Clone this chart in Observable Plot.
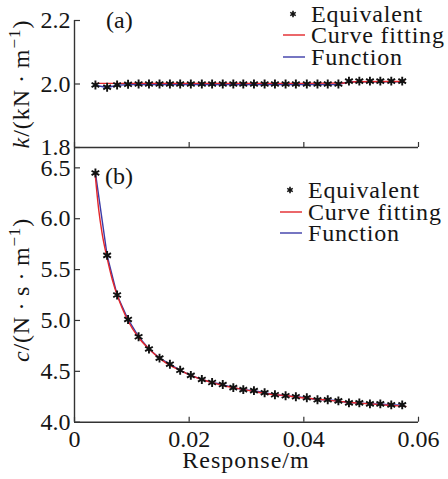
<!DOCTYPE html>
<html><head><meta charset="utf-8">
<script src="https://cdn.jsdelivr.net/npm/d3@7"></script>
<script src="https://cdn.jsdelivr.net/npm/@observablehq/plot@0.6"></script>
<style>
body{margin:0;background:#fff;}
#chart{position:relative;width:448px;height:479px;}
#chart svg{position:absolute;left:0;overflow:visible;background:transparent;}
</style></head><body><div id="chart"></div>
<script>
// ---- data ----
const response = [0.00365,0.00569,0.00743,0.00934,0.01118,0.01299,0.01483,0.01664,0.01843,0.02029,0.02221,0.02400,0.02586,0.02770,0.02944,0.03130,0.03316,0.03496,0.03682,0.03861,0.04052,0.04238,0.04417,0.04603,0.04787,0.04968,0.05153,0.05334,0.05525,0.05716];
const kEquivalent = [1.997,1.990,1.997,1.999,2.000,2.000,2.000,2.000,2.000,2.000,2.000,2.000,2.000,2.000,2.000,2.000,2.000,2.000,2.000,2.000,2.000,2.000,2.000,2.000,2.009,2.009,2.009,2.009,2.009,2.009];
const kFunction   = [1.996,1.989,1.996,1.998,1.998,1.998,1.998,1.998,1.998,1.998,1.998,1.998,1.998,1.998,1.998,1.998,1.998,1.998,1.998,1.998,1.998,1.998,1.998,1.998,2.007,2.007,2.007,2.007,2.007,2.007];
const kFitX = [0.0037,0.0400,0.0470,0.0490,0.0575];
const kFit  = [2.002,2.002,2.003,2.007,2.008];
const cEquivalent = [6.45,5.64,5.25,5.01,4.84,4.72,4.63,4.57,4.51,4.46,4.42,4.39,4.37,4.34,4.32,4.31,4.29,4.27,4.26,4.25,4.24,4.22,4.22,4.21,4.19,4.19,4.18,4.18,4.17,4.17];
const cFunction   = [6.45,5.64,5.25,5.01,4.84,4.72,4.63,4.57,4.51,4.46,4.42,4.39,4.37,4.34,4.32,4.31,4.29,4.27,4.26,4.25,4.24,4.22,4.22,4.21,4.19,4.19,4.18,4.18,4.17,4.17];
const cFitX = [0.0036,0.0042,0.0048,0.0057,0.0066,0.0075,0.0084,0.0093,0.0112,0.0130,0.0148,0.0166,0.0184,0.0203,0.0222,0.0240,0.0259,0.0277,0.0296,0.0314,0.0333,0.0351,0.0370,0.0388,0.0407,0.0425,0.0444,0.0462,0.0481,0.0500,0.0518,0.0537,0.0555,0.0578];
const cFit  = [6.44,6.10,5.86,5.61,5.40,5.24,5.11,5.00,4.83,4.72,4.63,4.56,4.51,4.46,4.42,4.39,4.36,4.34,4.32,4.30,4.28,4.27,4.26,4.245,4.235,4.225,4.215,4.205,4.195,4.185,4.18,4.17,4.165,4.155];
const xTicks = [0,0.02,0.04,0.06];
const xTickLabels = ["0","0.02","0.04","0.06"];
const kTicks = [1.8,2.0,2.2];
const kTickLabels = ["1.8","2.0","2.2"];
const cTicks = [4.0,4.5,5.0,5.5,6.0,6.5];
const cTickLabels = ["4.0","4.5","5.0","5.5","6.0","6.5"];
const legendLabels = ["Equivalent","Curve fitting","Function"];
const panelLabels = ["(a)","(b)"];
const xLabel = "Response/m";

// ---- styling ----
const FONT = '"Liberation Serif","Times New Roman",serif';
const AX = "#333", TXT = "#151515";
const RED = "#e3262a", BLUE = "#3b3ba8";
const pts = (xs, ys) => xs.map((x, i) => ({x, y: ys[i]}));

function panel({height, marginTop, marginBottom, yDomain, yTicks, yLabels, showXLabels, eq, fn, fit}) {
  const marks = [
    Plot.ruleX([0], {stroke: AX, strokeWidth: 1.4}),
    Plot.ruleY([yDomain[0]], {stroke: AX, strokeWidth: 1.4}),
    Plot.axisY(yTicks, {tickSize: -6, fill: "none", stroke: AX, strokeWidth: 1.2, label: null}),
    Plot.axisY(yTicks, {tickSize: 0, tickPadding: 4, stroke: "none", fill: TXT, fontSize: 24, label: null,
      tickFormat: d => yLabels[yTicks.indexOf(d)]}),
    Plot.axisX(xTicks, {tickSize: -5, fill: "none", stroke: AX, strokeWidth: 1.2, label: null}),
    Plot.line(fn, {x: "x", y: "y", stroke: BLUE, strokeWidth: 1.4}),
    Plot.line(fit, {x: "x", y: "y", stroke: RED, strokeWidth: 1.4, curve: "monotone-x"}),
    Plot.dot(eq, {x: "x", y: "y", symbol: "asterisk", r: 4.2, stroke: "#111", strokeWidth: 1.9})
  ];
  if (showXLabels) marks.push(Plot.axisX(xTicks, {tickSize: 0, tickPadding: 8, stroke: "none", fill: TXT, fontSize: 24, label: null,
      tickFormat: d => xTickLabels[xTicks.indexOf(d)]}));
  return Plot.plot({
    width: 448, height, marginLeft: 74, marginRight: 30, marginTop, marginBottom,
    style: {fontFamily: FONT, fontSize: "24px", color: TXT, background: "transparent", overflow: "visible"},
    x: {domain: [0, 0.06], axis: null},
    y: {domain: yDomain, axis: null},
    marks
  });
}

const bottomSvg = panel({height: 332, marginTop: 0, marginBottom: 57.3, yDomain: [4.0, 6.7], yTicks: cTicks, yLabels: cTickLabels,
  showXLabels: true, eq: pts(response, cEquivalent), fn: pts(response, cFunction), fit: pts(cFitX, cFit)});
const topSvg = panel({height: 160, marginTop: 20, marginBottom: 13, yDomain: [1.8, 2.2], yTicks: kTicks, yLabels: kTickLabels,
  showXLabels: false, eq: pts(response, kEquivalent), fn: pts(response, kFunction), fit: pts(kFitX, kFit)});
bottomSvg.style.top = "147px";
topSvg.style.top = "0px";
const root = document.getElementById("chart");
root.appendChild(bottomSvg);
root.appendChild(topSvg);

function addText(svg, {x, y, anchor = "start", rotate = false, spacing = 0, parts}) {
  const t = d3.select(svg).append("text")
    .attr("font-family", FONT).attr("font-size", 24).attr("fill", TXT)
    .attr("text-anchor", anchor).attr("letter-spacing", spacing)
    .attr("transform", rotate ? `translate(${x},${y}) rotate(-90)` : `translate(${x},${y})`);
  for (const p of parts) {
    const s = t.append("tspan").text(p.t);
    if (p.italic) s.attr("font-style", "italic");
    if (p.size) s.attr("font-size", p.size);
    if (p.dy) s.attr("dy", p.dy);
  }
  return t;
}
function addLegend(svg, {asterX, lineX1, lineX2, textX, rows}) {
  const g = d3.select(svg).append("g");
  g.append("path").attr("d", d3.symbol(d3.symbolAsterisk, 28)()).attr("transform", `translate(${asterX},${rows[0]})`)
    .attr("stroke", "#111").attr("stroke-width", 1.6).attr("fill", "none");
  g.append("line").attr("x1", lineX1).attr("x2", lineX2).attr("y1", rows[1]).attr("y2", rows[1]).attr("stroke", RED).attr("stroke-width", 1.4);
  g.append("line").attr("x1", lineX1).attr("x2", lineX2).attr("y1", rows[2]).attr("y2", rows[2]).attr("stroke", BLUE).attr("stroke-width", 1.4);
  legendLabels.forEach((lab, i) => addText(svg, {x: textX, y: rows[i] + 8, spacing: 0.8, parts: [{t: lab}]}));
}

// top panel extras (local coordinates = global)
addText(topSvg, {x: 106, y: 28, parts: [{t: panelLabels[0]}]});
addText(topSvg, {x: 29, y: 84, anchor: "middle", rotate: true, spacing: 1,
  parts: [{t: "k", italic: true}, {t: "/(kN\u2009·\u2009m"}, {t: "\u22121", size: 17, dy: -9}, {t: ")", dy: 9}]});
addLegend(topSvg, {asterX: 293, lineX1: 283, lineX2: 305, textX: 311, rows: [14, 35, 57]});

// bottom panel extras (local y = global y - 147)
addText(bottomSvg, {x: 105, y: 184 - 147, parts: [{t: panelLabels[1]}]});
addText(bottomSvg, {x: 29, y: 290 - 147, anchor: "middle", rotate: true, spacing: 0.8,
  parts: [{t: "c", italic: true}, {t: "/(N\u2009·\u2009s\u2009·\u2009m"}, {t: "\u22121", size: 17, dy: -9}, {t: ")", dy: 9}]});
addLegend(bottomSvg, {asterX: 290, lineX1: 280, lineX2: 302, textX: 308, rows: [190 - 147, 212 - 147, 233 - 147]});
addText(bottomSvg, {x: 246, y: 468 - 147, anchor: "middle", spacing: 1, parts: [{t: xLabel}]});
</script></body></html>
